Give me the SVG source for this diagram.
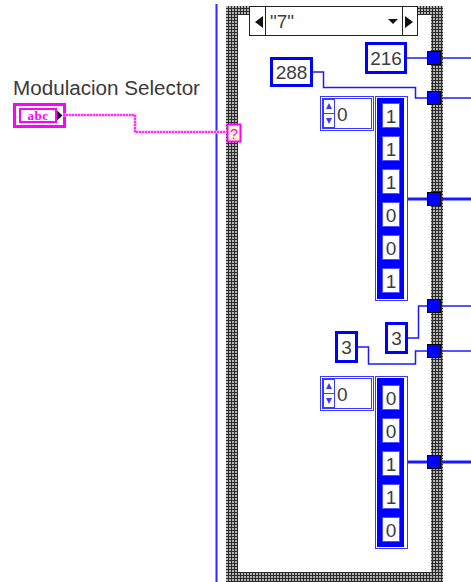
<svg xmlns="http://www.w3.org/2000/svg" width="471" height="582" viewBox="0 0 471 582">
<defs>
<pattern id="hatch" width="3" height="3" patternUnits="userSpaceOnUse">
<rect width="3" height="3" fill="#2b2b2b"/>
<rect x="1" y="0" width="2" height="2" fill="#b4b4b4"/>
</pattern>
<style>
.num{font-family:"Liberation Sans",Arial,sans-serif;font-size:19px;fill:#3d3d3d}
.const{fill:#fff;stroke:#0000ff;stroke-width:3}
.tun{fill:#0000ff;stroke:#000;stroke-width:1}
.w1{fill:none;stroke:#1a1aff;stroke-width:1.5}
.w3{fill:none;stroke:#1a1aff;stroke-width:3}
.elem{fill:#fff;stroke:#5050ff;stroke-width:1}
.thin{fill:#fff;stroke:#3a3aff;stroke-width:1}
</style>
</defs>
<rect width="471" height="582" fill="#fff"/>

<g id="loop-border">
<line x1="216.5" y1="4" x2="216.5" y2="582" stroke="#2a2aff" stroke-width="2"/>
</g>

<g id="case-structure">
<path d="M226,6H443V582H226Z M238,15V572H431V15Z" fill="url(#hatch)" fill-rule="evenodd"/>
<g id="case-selector-label">
<rect x="249.5" y="6.5" width="168" height="29" fill="#fff" stroke="#222" stroke-width="1"/>
<line x1="265.5" y1="6.5" x2="265.5" y2="35.5" stroke="#222"/>
<line x1="402.5" y1="6.5" x2="402.5" y2="35.5" stroke="#222"/>
<polygon points="263,16 263,28 255,22" fill="#111"/>
<polygon points="405,16 405,28 413,22" fill="#111"/>
<polygon points="388,19 398,19 393,24" fill="#111"/>
<text x="270" y="28" class="num">"7"</text>
</g>
<g id="case-selector-terminal">
<rect x="227.5" y="124.5" width="13" height="17" fill="#fff8c8" stroke="#ff00ff" stroke-width="2"/>
<text x="234" y="139" font-family="Liberation Sans,Arial,sans-serif" font-size="14" fill="#ff00ff" text-anchor="middle">?</text>
</g>
</g>

<g id="label-modulacion-selector">
<text x="13" y="95" font-family="Liberation Sans,Arial,sans-serif" font-size="20" fill="#3a3a3a" textLength="187" lengthAdjust="spacingAndGlyphs">Modulacion Selector</text>
</g>

<g id="modulacion-selector">
<rect x="14.5" y="104.5" width="50" height="22" fill="#fff" stroke="#ff00ff" stroke-width="3"/>
<rect x="20" y="109" width="36" height="13" fill="#fff" stroke="#ff00ff" stroke-width="2"/>
<text x="38" y="120" font-family="Liberation Serif,serif" font-weight="bold" font-size="13" letter-spacing="0.5" fill="#ff00ff" text-anchor="middle">abc</text>
<polygon points="57,110.5 57,120.5 62.5,115.5" fill="#111"/>
</g>

<g id="wires">
<polyline points="63,115 135,115 135,132 227,132" fill="none" stroke="#ffb0f0" stroke-width="3"/>
<polyline points="63,115 135,115 135,132 227,132" fill="none" stroke="#ff00ff" stroke-width="1.5" stroke-dasharray="2 1"/>
<polyline class="w1" points="407,58 427,58"/>
<polyline class="w1" points="441,58 471,58"/>
<polyline class="w1" points="313,72 323.5,72 323.5,87.5 415.5,87.5 415.5,98 427,98"/>
<polyline class="w1" points="441,98 471,98"/>
<polyline class="w3" points="407,199 427,199"/>
<polyline class="w3" points="441,199 471,199"/>
<polyline class="w1" points="407,338 418.5,338 418.5,306 427,306"/>
<polyline class="w1" points="441,306 471,306"/>
<polyline class="w1" points="357,347 368.5,347 368.5,364 415.5,364 415.5,351 427,351"/>
<polyline class="w1" points="441,351 471,351"/>
<polyline class="w3" points="407,462 427,462"/>
<polyline class="w3" points="441,462 471,462"/>
</g>

<g id="const-216">
<rect x="366.5" y="43.5" width="39" height="29" class="const"/>
<text x="386" y="65" class="num" text-anchor="middle">216</text>
</g>

<g id="const-288">
<rect x="271.5" y="58.5" width="40" height="27" class="const"/>
<text x="291.5" y="79" class="num" text-anchor="middle">288</text>
</g>

<g id="array-1">
<rect x="320.5" y="96.5" width="53" height="34" class="thin"/>
<rect x="322.5" y="98.5" width="49" height="30" class="thin"/>
<rect x="323.5" y="99.5" width="11" height="28" fill="#fff" stroke="#3a3aff"/>
<polygon points="326,109 332,109 329,103" fill="#3a3aff"/>
<polygon points="326,118 332,118 329,124" fill="#3a3aff"/>
<line x1="324" y1="113.5" x2="334" y2="113.5" stroke="#3a3aff"/>
<text x="337" y="121" class="num">0</text>
<rect x="375.5" y="96.5" width="32" height="204" class="thin"/>
<rect x="377" y="98" width="27" height="201" fill="#0000ff"/>
<rect x="382.5" y="103.5" width="17" height="24" class="elem"/>
<rect x="382.5" y="136.5" width="17" height="24" class="elem"/>
<rect x="382.5" y="169.5" width="17" height="24" class="elem"/>
<rect x="382.5" y="202.5" width="17" height="24" class="elem"/>
<rect x="382.5" y="235.5" width="17" height="24" class="elem"/>
<rect x="382.5" y="268.5" width="17" height="24" class="elem"/>
<text x="391" y="123" class="num" text-anchor="middle">1</text>
<text x="391" y="156" class="num" text-anchor="middle">1</text>
<text x="391" y="189" class="num" text-anchor="middle">1</text>
<text x="391" y="222" class="num" text-anchor="middle">0</text>
<text x="391" y="255" class="num" text-anchor="middle">0</text>
<text x="391" y="288" class="num" text-anchor="middle">1</text>
</g>

<g id="const-3-right">
<rect x="386.5" y="323.5" width="20" height="29" class="const"/>
<text x="396.5" y="345" class="num" text-anchor="middle">3</text>
</g>

<g id="const-3-left">
<rect x="336.5" y="332.5" width="20" height="29" class="const"/>
<text x="346.5" y="354" class="num" text-anchor="middle">3</text>
</g>

<g id="array-2">
<rect x="320.5" y="376.5" width="53" height="34" class="thin"/>
<rect x="322.5" y="378.5" width="49" height="30" class="thin"/>
<rect x="323.5" y="379.5" width="11" height="28" fill="#fff" stroke="#3a3aff"/>
<polygon points="326,389 332,389 329,383" fill="#3a3aff"/>
<polygon points="326,398 332,398 329,404" fill="#3a3aff"/>
<line x1="324" y1="393.5" x2="334" y2="393.5" stroke="#3a3aff"/>
<text x="337" y="401" class="num">0</text>
<rect x="375.5" y="376.5" width="32" height="172" class="thin"/>
<rect x="377" y="378" width="27" height="169" fill="#0000ff"/>
<rect x="382.5" y="385.5" width="17" height="24" class="elem"/>
<rect x="382.5" y="418.5" width="17" height="24" class="elem"/>
<rect x="382.5" y="451.5" width="17" height="24" class="elem"/>
<rect x="382.5" y="484.5" width="17" height="24" class="elem"/>
<rect x="382.5" y="517.5" width="17" height="24" class="elem"/>
<text x="391" y="405" class="num" text-anchor="middle">0</text>
<text x="391" y="438" class="num" text-anchor="middle">0</text>
<text x="391" y="471" class="num" text-anchor="middle">1</text>
<text x="391" y="504" class="num" text-anchor="middle">1</text>
<text x="391" y="537" class="num" text-anchor="middle">0</text>
</g>

<g id="tunnels">
<rect x="427.5" y="51.5" width="13" height="13" class="tun"/>
<rect x="427.5" y="91.5" width="13" height="13" class="tun"/>
<rect x="427.5" y="192.5" width="13" height="13" class="tun"/>
<rect x="427.5" y="299.5" width="13" height="13" class="tun"/>
<rect x="427.5" y="344.5" width="13" height="13" class="tun"/>
<rect x="427.5" y="455.5" width="13" height="13" class="tun"/>
</g>
</svg>
